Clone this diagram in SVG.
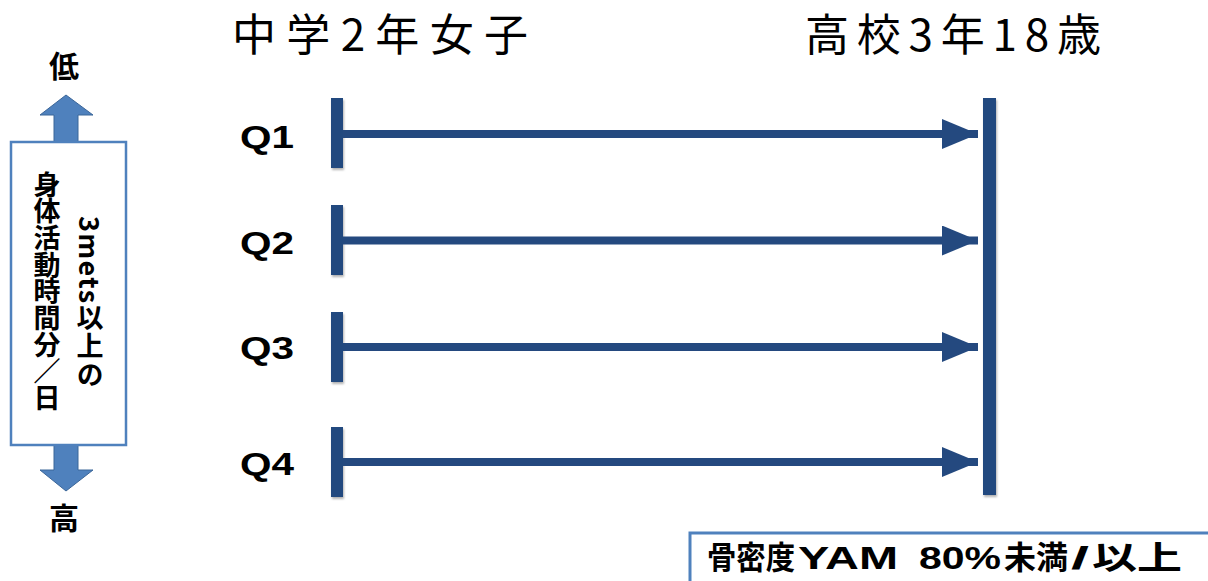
<svg xmlns="http://www.w3.org/2000/svg" width="1208" height="581" viewBox="0 0 1208 581">
<defs>
<style>
.title{font-family:"Noto Sans CJK JP","Noto Sans",sans-serif;font-size:44px;fill:#000}
.q{font-family:"Liberation Sans",Arial,sans-serif;font-weight:bold;font-size:32px;fill:#000}
.bar{fill:#24497F}
.shaft{stroke:#24497F;stroke-width:8}
.vt{font-family:"Noto Sans CJK JP",sans-serif;font-weight:bold;font-size:27px;fill:#000;writing-mode:vertical-rl}
.lbl{font-family:"Noto Sans CJK JP",sans-serif;font-weight:bold;font-size:30px;fill:#000}
.leg{font-family:"Liberation Sans","Noto Sans CJK JP",sans-serif;font-weight:bold;font-size:32px;fill:#000}
.box{fill:#fff;stroke:#4F81BD;stroke-width:2.5}
.barrow{fill:#4F81BD;stroke:#3B6699;stroke-width:1}
</style>
<filter id="sh" x="-20%" y="-20%" width="160%" height="160%">
<feDropShadow dx="1" dy="2" stdDeviation="1.2" flood-color="#000" flood-opacity="0.3"/>
</filter>
<marker id="ah" markerUnits="userSpaceOnUse" markerWidth="36" markerHeight="30" refX="36" refY="15" orient="auto">
<path d="M0,0 L36,15 L0,30 Z" fill="#24497F"/>
</marker>
</defs>
<rect width="1208" height="581" fill="#fff"/>

<g id="title-left"><text class="title" x="232" y="51" textLength="296" lengthAdjust="spacing">中学2年女子</text></g>
<g id="title-right"><text class="title" x="805" y="51" textLength="296" lengthAdjust="spacing">高校3年18歳</text></g>

<g id="axis">
<text class="lbl" x="64" y="77" text-anchor="middle">低</text>
<polygon class="barrow" points="54,142 54,115 40,115 66,95 93,115 78,115 78,142"/>
<polygon class="barrow" points="54,445 54,470 40,470 66,491 93,470 78,470 78,445"/>
<rect class="box" x="11" y="142" width="115" height="303"/>
<text class="vt" x="90" y="216" textLength="172" lengthAdjust="spacing">3mets以上の</text>
<text class="vt" x="47" y="171" textLength="240" lengthAdjust="spacing">身体活動時間分／日</text>
<text class="lbl" x="64" y="529" text-anchor="middle">高</text>
</g>

<g id="Q1"><text class="q" x="240" y="148" textLength="54" lengthAdjust="spacingAndGlyphs">Q1</text><rect class="bar" filter="url(#sh)" x="331" y="98" width="12" height="70"/></g>
<g id="Q2"><text class="q" x="240" y="254" textLength="54" lengthAdjust="spacingAndGlyphs">Q2</text><rect class="bar" filter="url(#sh)" x="331" y="205" width="12" height="70"/></g>
<g id="Q3"><text class="q" x="240" y="359" textLength="54" lengthAdjust="spacingAndGlyphs">Q3</text><rect class="bar" filter="url(#sh)" x="331" y="312" width="12" height="70"/></g>
<g id="Q4"><text class="q" x="240" y="475" textLength="54" lengthAdjust="spacingAndGlyphs">Q4</text><rect class="bar" filter="url(#sh)" x="331" y="427" width="12" height="70"/></g>

<g id="end-bar"><rect class="bar" filter="url(#sh)" x="983" y="98" width="13" height="397"/></g>

<g id="connectors">
<line class="shaft" x1="343" y1="134" x2="978" y2="134" marker-end="url(#ah)"/>
<line class="shaft" x1="343" y1="240.5" x2="978" y2="240.5" marker-end="url(#ah)"/>
<line class="shaft" x1="343" y1="347" x2="978" y2="347" marker-end="url(#ah)"/>
<line class="shaft" x1="343" y1="462" x2="978" y2="462" marker-end="url(#ah)"/>
</g>

<g id="legend">
<rect x="690" y="533" width="540" height="60" fill="#fff" stroke="#4F81BD" stroke-width="3"/>
<text class="leg" y="569" style="white-space:pre"><tspan x="707" textLength="88" lengthAdjust="spacingAndGlyphs">骨密度</tspan><tspan x="798" textLength="100" lengthAdjust="spacingAndGlyphs">YAM</tspan><tspan> </tspan><tspan x="919" textLength="82" lengthAdjust="spacingAndGlyphs">80%</tspan><tspan x="1004" textLength="64" lengthAdjust="spacingAndGlyphs">未満</tspan><tspan x="1071" textLength="18" lengthAdjust="spacingAndGlyphs">/</tspan><tspan x="1092" textLength="90" lengthAdjust="spacingAndGlyphs">以上</tspan></text>
</g>
</svg>
